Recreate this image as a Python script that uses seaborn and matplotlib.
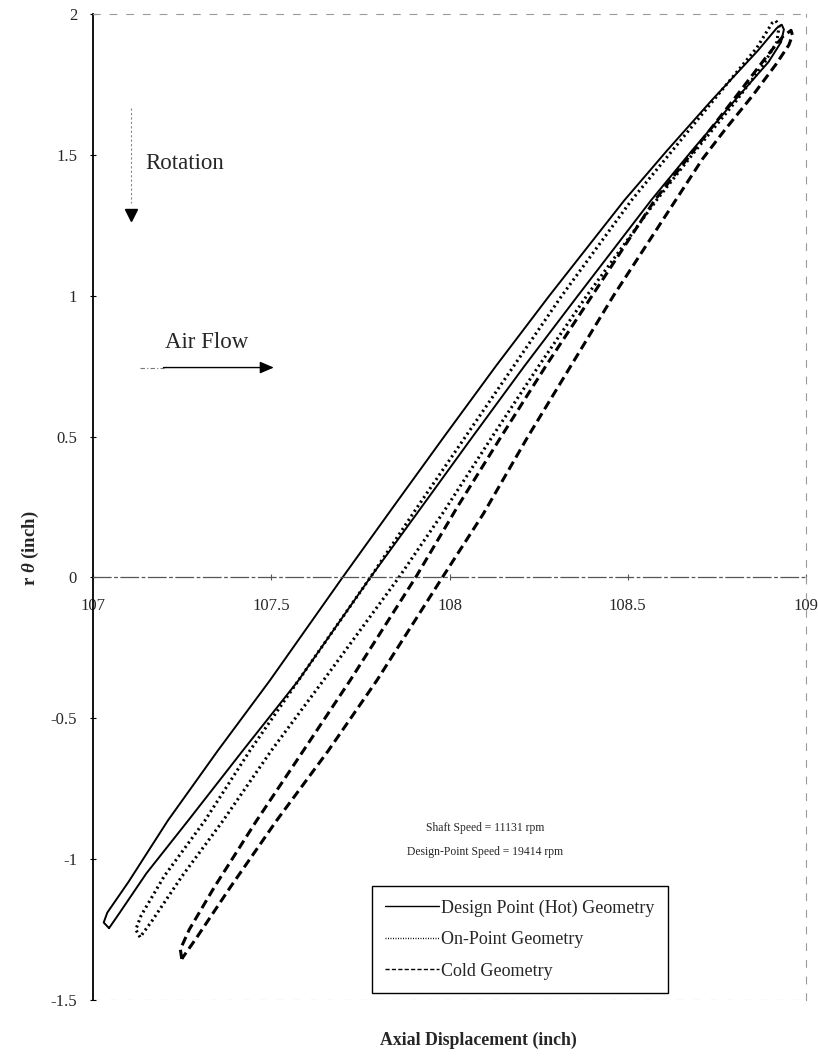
import matplotlib
matplotlib.use("Agg")
import matplotlib.pyplot as plt
import seaborn as sns
import pandas as pd

# ---------------- data ----------------
series_names = ["Design Point (Hot) Geometry", "On-Point Geometry", "Cold Geometry"]

hot_x = [107.045, 107.030, 107.040, 107.100, 107.210, 107.350, 107.496, 107.700, 107.842, 107.985,
         108.130, 108.280, 108.490, 108.610, 108.735, 108.865, 108.918, 108.932,
         108.938, 108.930, 108.895, 108.800, 108.680, 108.565, 108.360, 108.210, 108.065, 107.908,
         107.778, 107.576, 107.420, 107.267, 107.150, 107.075, 107.045]
hot_y = [-1.245, -1.225, -1.190, -1.080, -0.863, -0.615, -0.366, 0.000, 0.250, 0.500,
         0.750, 1.000, 1.338, 1.515, 1.693, 1.870, 1.950, 1.962,
         1.945, 1.900, 1.830, 1.693, 1.515, 1.338, 1.000, 0.750, 0.500, 0.226,
         0.000, -0.366, -0.615, -0.863, -1.050, -1.190, -1.245]

on_x = [107.132, 107.120, 107.135, 107.200, 107.314, 107.440, 107.576, 107.778, 107.910, 108.045,
        108.180, 108.315, 108.510, 108.625, 108.740, 108.862, 108.905, 108.915,
        108.925, 108.918, 108.880, 108.805, 108.690, 108.580, 108.385, 108.250, 108.120, 107.980,
        107.858, 107.646, 107.500, 107.365, 107.250, 107.165, 107.132]
on_y = [-1.277, -1.250, -1.200, -1.060, -0.863, -0.615, -0.366, 0.000, 0.250, 0.500,
        0.750, 1.000, 1.338, 1.515, 1.693, 1.880, 1.968, 1.976,
        1.960, 1.900, 1.820, 1.693, 1.515, 1.338, 1.000, 0.750, 0.500, 0.226,
        0.000, -0.366, -0.615, -0.863, -1.060, -1.220, -1.277]

cold_x = [107.249, 107.245, 107.270, 107.340, 107.459, 107.590, 107.721, 107.905, 108.022, 108.145,
          108.270, 108.400, 108.575, 108.685, 108.795, 108.890, 108.935, 108.958,
          108.962, 108.952, 108.915, 108.850, 108.775, 108.710, 108.640, 108.460, 108.340, 108.220,
          108.095, 107.980, 107.796, 107.660, 107.515, 107.385, 107.290, 107.249]
cold_y = [-1.354, -1.320, -1.250, -1.100, -0.863, -0.615, -0.366, 0.000, 0.250, 0.500,
          0.750, 1.000, 1.338, 1.515, 1.693, 1.850, 1.920, 1.942,
          1.925, 1.890, 1.820, 1.710, 1.593, 1.486, 1.350, 1.000, 0.750, 0.500,
          0.226, 0.000, -0.366, -0.615, -0.863, -1.100, -1.280, -1.354]

x_ticks = [107, 107.5, 108, 108.5, 109]
x_tick_labels = ["107", "107.5", "108", "108.5", "109"]
y_ticks = [-1.5, -1, -0.5, 0, 0.5, 1, 1.5, 2]
y_tick_labels = ["-1.5", "-1", "-0.5", "0", "0.5", "1", "1.5", "2"]

note_lines = ["Shaft Speed = 11131 rpm", "Design-Point Speed = 19414 rpm"]

# ---------------- style ----------------
sns.set_theme(style="white")
plt.rcParams["font.family"] = ["Liberation Serif", "DejaVu Serif"]
plt.rcParams["mathtext.fontset"] = "custom"
plt.rcParams["mathtext.rm"] = "Liberation Serif:bold"
plt.rcParams["mathtext.it"] = "Liberation Serif:italic:bold"
plt.rcParams["mathtext.bf"] = "Liberation Serif:bold"

fig = plt.figure(figsize=(8.18, 10.57), dpi=100)
ax = fig.add_axes([93 / 818, 1 - 1000 / 1057, 713 / 818, 986 / 1057])

styles = [
    dict(linestyle="-", linewidth=1.4),
    dict(linestyle=(0, (0.7, 1.1)), linewidth=2.2),
    dict(linestyle=(0, (3.0, 1.6)), linewidth=2.2),
]
for name, xs, ys, st in zip(series_names, [hot_x, on_x, cold_x], [hot_y, on_y, cold_y], styles):
    df = pd.DataFrame({"x": xs, "y": ys})
    sns.lineplot(data=df, x="x", y="y", sort=False, estimator=None, color="black",
                 label=name, ax=ax, **st)

ax.set_xlim(107, 109)
ax.set_ylim(-1.5, 2)

# spines
ax.spines["left"].set_color("black")
ax.spines["left"].set_linewidth(1.3)
ax.spines["bottom"].set_position(("data", 0))
ax.spines["bottom"].set_color("#555555")
ax.spines["bottom"].set_linewidth(0.9)
ax.spines["bottom"].set_linestyle((0, (14, 3, 2, 3)))
for s in ["top", "right"]:
    ax.spines[s].set_color("#9a9a9a")
    ax.spines[s].set_linewidth(0.8)
    ax.spines[s].set_linestyle((0, (6, 9)))
ax.axhline(-1.5, color="#9a9a9a", lw=0.8, ls=(0, (6, 9)))

ax.set_xticks(x_ticks)
ax.set_xticklabels(x_tick_labels)
ax.set_yticks(y_ticks)
ax.set_yticklabels(y_tick_labels)
ax.tick_params(axis="x", direction="inout", length=5, width=0.8, color="#555555",
               labelsize=12, pad=12, bottom=True)
ax.tick_params(axis="y", direction="inout", length=5, width=0.8, color="black",
               labelsize=12, pad=9, left=True)

ax.set_xlabel("Axial Displacement (inch)", fontsize=12.8, fontweight="bold")
ax.xaxis.set_label_coords(0.54, -0.041)
ax.xaxis.label.set_va("center")
ax.set_ylabel(r"r $\theta$ (inch)", fontsize=13.5, fontweight="bold")
ax.yaxis.set_label_coords(-0.088, 0.458)
ax.yaxis.label.set_va("center")

# annotations
ax.plot([107.107, 107.107], [1.665, 1.33], color="#888888", lw=0.8, ls=(0, (2, 2)))
ax.plot([107.107], [1.285], marker="v", color="black", markersize=9, ls="none")
ax.text(107.146, 1.47, "Rotation", fontsize=16.5, va="center", ha="left")
ax.text(107.202, 0.834, "Air Flow", fontsize=16.5, va="center", ha="left")
ax.plot([107.132, 107.20], [0.745, 0.745], color="#777777", lw=0.8, ls=(0, (4, 2, 1, 2)))
ax.annotate("", xy=(107.515, 0.745), xytext=(107.19, 0.745),
            arrowprops=dict(arrowstyle="-|>,head_length=0.7,head_width=0.3", color="black", lw=1.0))
ax.text(108.10, -0.891, note_lines[0], fontsize=8.4, ha="center", va="center")
ax.text(108.10, -0.973, note_lines[1], fontsize=8.4, ha="center", va="center")

leg = ax.legend(loc="upper left", bbox_to_anchor=(0.391, 0.1156), fontsize=13,
                frameon=True, fancybox=False, framealpha=1, edgecolor="black",
                handlelength=3.0, handletextpad=0.1, labelspacing=0.8,
                borderpad=0.75, borderaxespad=0)
leg.get_frame().set_linewidth(1.0)
for h in leg.get_lines():
    h.set_linewidth(1.0)

fig.savefig("out.png", dpi=100)
